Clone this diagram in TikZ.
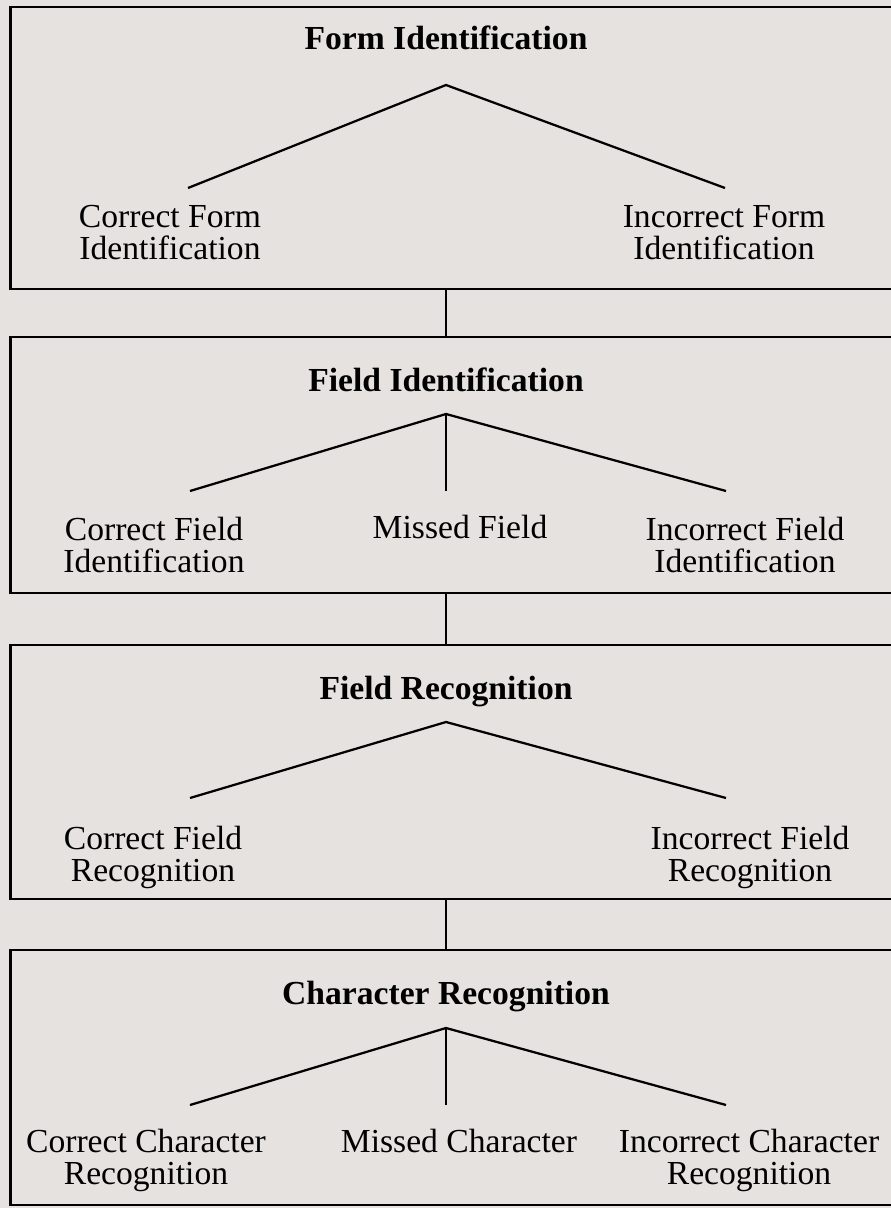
\documentclass[tikz,border=0pt]{standalone}
\usepackage{fontspec}
\setmainfont{Liberation Serif}
\definecolor{paper}{RGB}{229,226,223}
\tikzset{
  stage/.style={draw=black,line width=2pt,inner sep=0pt,outer sep=0pt,minimum width=22.35cm},
  stagetitle/.style={font=\fontsize{23.9}{22.8}\selectfont\bfseries,anchor=base},
  outcome/.style={font=\fontsize{23.9}{22.8}\selectfont,align=center},
  branch/.style={line width=1.6pt},
}

\begin{document}
\begin{tikzpicture}[x=0.025cm,y=-0.025cm]
\useasboundingbox (0,0) rectangle (891,1208);
\fill[paper] (0,0) rectangle (891,1208);
\clip (0,0) rectangle (891,1208);

% form identification
\node[stage,minimum height=7.05cm] (formbox) at (458,148) {};
\node[stagetitle] (formtitle) at (446,50) {Form Identification};
\coordinate (formtop) at (446,85);
\coordinate (formL) at (188,188);
\coordinate (formR) at (725,188);
\node[outcome] (formok) at (170,233) {Correct Form\\Identification};
\node[outcome] (formbad) at (724,233) {Incorrect Form\\Identification};
\draw[branch] (formL) -- (formtop) -- (formR);

% field identification
\node[stage,minimum height=6.4cm] (fieldbox) at (458,465) {};
\node[stagetitle] (fieldtitle) at (446,391) {Field Identification};
\coordinate (fieldtop) at (446,414);
\coordinate (fieldL) at (190,491);
\coordinate (fieldM) at (446,491);
\coordinate (fieldR) at (726,491);
\node[outcome] (fieldok) at (154,545) {Correct Field\\Identification};
\node[outcome] (fieldmiss) at (460,527) {Missed Field};
\node[outcome] (fieldbad) at (745,545) {Incorrect Field\\Identification};
\draw[branch] (fieldL) -- (fieldtop) -- (fieldR);
\draw[branch] (fieldtop) -- (fieldM);

% field recognition
\node[stage,minimum height=6.35cm] (recbox) at (458,772) {};
\node[stagetitle] (rectitle) at (446,699) {Field Recognition};
\coordinate (rectop) at (446,722);
\coordinate (recL) at (190,798);
\coordinate (recR) at (726,798);
\node[outcome] (recok) at (153,857) {Correct Field\\Recognition};
\node[outcome] (recbad) at (750,857) {Incorrect Field\\Recognition};
\draw[branch] (recL) -- (rectop) -- (recR);

% character recognition
\node[stage,minimum height=6.375cm] (charbox) at (458,1077.5) {};
\node[stagetitle] (chartitle) at (446,1004) {Character Recognition};
\coordinate (chartop) at (446,1028);
\coordinate (charL) at (190,1105);
\coordinate (charM) at (446,1105);
\coordinate (charR) at (726,1105);
\node[outcome] (charok) at (146,1160) {Correct Character\\Recognition};
\node[outcome] (charmiss) at (459,1141) {Missed Character};
\node[outcome] (charbad) at (749,1160) {Incorrect Character\\Recognition};
\draw[branch] (charL) -- (chartop) -- (charR);
\draw[branch] (chartop) -- (charM);

% links between stages
\draw[branch] (formtop |- formbox.south) -- (formtop |- fieldbox.north);
\draw[branch] (formtop |- fieldbox.south) -- (formtop |- recbox.north);
\draw[branch] (formtop |- recbox.south) -- (formtop |- charbox.north);
\end{tikzpicture}
\end{document}
